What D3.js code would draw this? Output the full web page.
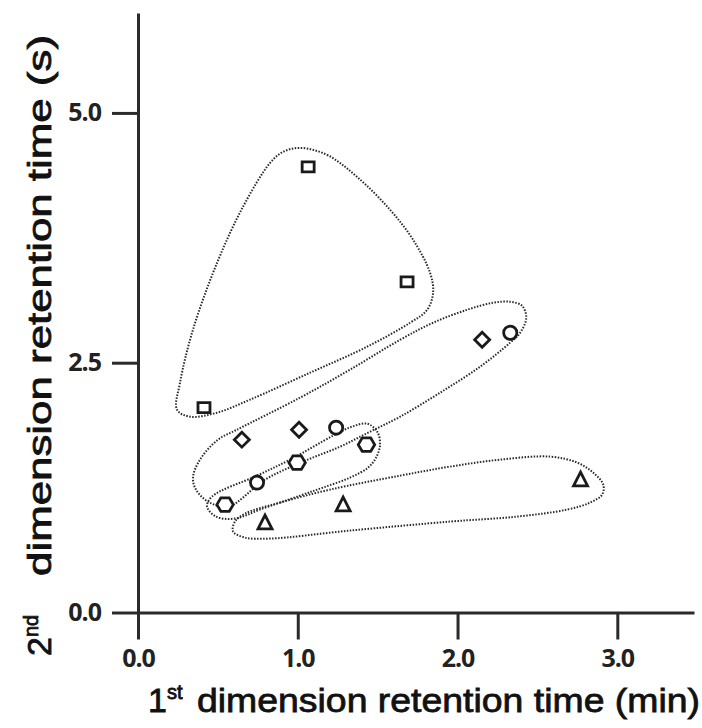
<!DOCTYPE html>
<html>
<head>
<meta charset="utf-8">
<script src="https://cdn.jsdelivr.net/npm/d3@7"></script>
<style>
  html, body { margin: 0; padding: 0; background: #fff; }
  svg { display: block; }
</style>
</head>
<body>
<svg id="chart" width="702" height="728"></svg>
<script>
// ---------------- data ----------------
const xTicks = [0, 1, 2, 3];
const yTicks = [0, 2.5, 5];
const xTickLabels = ["0.0", "1.0", "2.0", "3.0"];
const yTickLabels = ["0.0", "2.5", "5.0"];

const squares   = [[0.413, 2.05], [1.065, 4.46], [1.684, 3.31]];
const diamonds  = [[0.65, 1.73], [1.008, 1.83], [2.154, 2.73]];
const circles   = [[0.745, 1.30], [1.24, 1.85], [2.33, 2.80]];
const hexagons  = [[0.545, 1.08], [0.996, 1.50], [1.43, 1.68]];
const triangles = [[0.795, 0.90], [1.284, 1.08], [2.77, 1.33]];

// enclosing outlines (data units)
const outlineSquares = [
  [1.014, 4.65], [1.183, 4.58], [1.371, 4.36], [1.578, 4.03], [1.722, 3.73],
  [1.828, 3.40], [1.847, 3.20], [1.810, 3.03], [1.703, 2.90], [1.434, 2.66],
  [1.077, 2.40], [0.701, 2.13], [0.495, 2.00], [0.326, 1.96], [0.244, 2.03],
  [0.263, 2.30], [0.344, 2.83], [0.495, 3.50], [0.657, 4.06], [0.827, 4.50],
  [0.908, 4.61]
];
const outlineDiamonds = [
  [0.501, 1.73], [0.620, 1.83], [1.014, 2.15], [1.327, 2.43], [1.641, 2.73],
  [1.847, 2.90], [2.060, 3.03], [2.223, 3.10], [2.329, 3.11], [2.404, 3.07],
  [2.430, 2.95], [2.392, 2.80], [2.329, 2.70], [2.141, 2.46], [1.891, 2.20],
  [1.641, 1.96], [1.453, 1.81], [1.265, 1.66], [1.033, 1.51], [0.795, 1.33],
  [0.564, 1.06], [0.438, 1.11], [0.363, 1.23], [0.344, 1.35], [0.388, 1.53]
];
const outlineHexagons = [
  [0.463, 1.16], [0.745, 1.37], [0.952, 1.53], [1.221, 1.77], [1.340, 1.86],
  [1.434, 1.89], [1.497, 1.81], [1.515, 1.68], [1.490, 1.55], [1.440, 1.45],
  [1.327, 1.35], [1.158, 1.25], [1.014, 1.17], [0.764, 1.03], [0.607, 0.94],
  [0.488, 0.96], [0.432, 1.06]
];
const outlineTriangles = [
  [0.670, 0.99], [0.889, 1.10], [1.202, 1.23], [1.641, 1.37], [1.954, 1.46],
  [2.267, 1.53], [2.580, 1.56], [2.749, 1.50], [2.849, 1.40], [2.912, 1.28],
  [2.905, 1.18], [2.830, 1.10], [2.686, 1.03], [2.373, 0.96], [1.954, 0.91],
  [1.327, 0.82], [0.827, 0.74], [0.670, 0.75], [0.595, 0.81], [0.607, 0.91]
];

// ---------------- chart ----------------
const svg = d3.select("#chart");
const x = d3.scaleLinear().domain([0, 3.48]).range([138, 694]);
const y = d3.scaleLinear().domain([0, 6]).range([612.5, 13]);

const axisColor = "#2a2a2a";
const tickFont = "'Open Sans', 'DejaVu Sans', sans-serif";

// x axis
const gx = svg.append("g").attr("transform", `translate(0,${y(0)})`)
  .call(d3.axisBottom(x).tickValues(xTicks).tickSizeInner(27).tickSizeOuter(0).tickPadding(8)
    .tickFormat((d, i) => xTickLabels[i]));
// y axis
const gy = svg.append("g").attr("transform", `translate(${x(0)},0)`)
  .call(d3.axisLeft(y).tickValues(yTicks).tickSizeInner(26).tickSizeOuter(0).tickPadding(11)
    .tickFormat((d, i) => yTickLabels[i]));

[gx, gy].forEach(g => {
  g.select(".domain").attr("stroke", axisColor).attr("stroke-width", 3);
  g.selectAll(".tick line").attr("stroke", axisColor).attr("stroke-width", 3);
  g.selectAll(".tick text").attr("fill", "#222")
    .style("font-family", tickFont).style("font-weight", 700).style("font-size", "25px")
    .style("letter-spacing", "-1px");
});
gx.selectAll(".tick text").attr("dy", "0.76em");

// outlines
const lineGen = d3.line().x(d => x(d[0])).y(d => y(d[1]))
  .curve(d3.curveCatmullRomClosed.alpha(0.5));
const outlines = [outlineSquares, outlineDiamonds, outlineHexagons, outlineTriangles];
svg.append("g").selectAll("path").data(outlines).join("path")
  .attr("d", lineGen)
  .attr("fill", "none")
  .attr("stroke", "#2a2a2a")
  .attr("stroke-width", 2)
  .attr("stroke-dasharray", "1.5 1.5");

// marker shapes
const shapes = {
  square: () => "M-6,-5H6V5H-6Z",
  diamond: () => "M0,-7.5L7.5,0L0,7.5L-7.5,0Z",
  circle: () => "M6.6,0A6.6,6.6 0 1,1 -6.6,0A6.6,6.6 0 1,1 6.6,0Z",
  hexagon: () => "M-8.2,0L-4.2,-6.8L4.2,-6.8L8.2,0L4.2,6.8L-4.2,6.8Z",
  triangle: () => "M0,-7.5L7,6.3L-7,6.3Z"
};
const series = [
  { pts: squares, shape: "square" },
  { pts: diamonds, shape: "diamond" },
  { pts: circles, shape: "circle" },
  { pts: hexagons, shape: "hexagon" },
  { pts: triangles, shape: "triangle" }
];
const gm = svg.append("g");
series.forEach(s => {
  gm.selectAll(null).data(s.pts).join("path")
    .attr("transform", d => `translate(${x(d[0])},${y(d[1])})`)
    .attr("d", shapes[s.shape]())
    .attr("fill", "#fff")
    .attr("stroke", "#1a1a1a")
    .attr("stroke-width", 2.8)
    .attr("stroke-linejoin", "miter");
});

// axis titles
const titleFont = "'Liberation Sans', Arial, sans-serif";
const xt = svg.append("text")
  .attr("x", 148).attr("y", 712)
  .style("font-family", titleFont).style("font-size", "34px")
  .style("stroke", "#111").style("stroke-width", 0.8)
  .attr("fill", "#111");
xt.append("tspan").text("1");
xt.append("tspan").attr("dy", -13).style("font-size", "20px").text("st");
svg.append("text")
  .attr("x", 197).attr("y", 712)
  .attr("textLength", 503).attr("lengthAdjust", "spacingAndGlyphs")
  .style("font-family", titleFont).style("font-size", "34px")
  .style("stroke", "#111").style("stroke-width", 0.8)
  .attr("fill", "#111")
  .text("dimension retention time (min)");

const yt = svg.append("g").attr("transform", "translate(51,0) rotate(-90)");
const yt1 = yt.append("text")
  .attr("x", -656).attr("y", 0)
  .style("font-family", titleFont).style("font-size", "34px")
  .style("stroke", "#111").style("stroke-width", 0.8)
  .attr("fill", "#111");
yt1.append("tspan").text("2");
yt1.append("tspan").attr("dy", -13).style("font-size", "20px").text("nd");
yt.append("text")
  .attr("x", -576).attr("y", 0)
  .attr("textLength", 541).attr("lengthAdjust", "spacingAndGlyphs")
  .style("font-family", titleFont).style("font-size", "34px")
  .style("stroke", "#111").style("stroke-width", 0.8)
  .attr("fill", "#111")
  .text("dimension retention time (s)");
</script>
</body>
</html>
